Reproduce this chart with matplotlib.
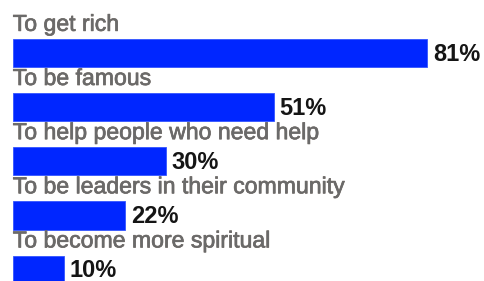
import matplotlib
matplotlib.use('Agg')
import matplotlib.pyplot as plt
import matplotlib.patheffects as pe

labels = ['To get rich', 'To be famous', 'To help people who need help',
          'To be leaders in their community', 'To become more spiritual']
values = [81, 51, 30, 22, 10]

plt.rcParams['font.family'] = ['Liberation Sans', 'DejaVu Sans']

fig = plt.figure(figsize=(4.85, 2.81), dpi=100)
ax = fig.add_axes([0, 0, 1, 1])

pos = list(range(len(values)))
ax.barh(pos, values, height=0.52, color='#0026ff', edgecolor='#3355ff', linewidth=0.6)

thick = [pe.withStroke(linewidth=0.5, foreground='#6e6660')]
for i, (lab, v) in enumerate(zip(labels, values)):
    ax.text(0.05, i - 0.41, lab, fontsize=16.6, color='#6a6a6a', va='baseline',
            ha='left', path_effects=thick)
    ax.text(v + 1.1, i + 0.02, f'{v}%', fontsize=17, fontweight='bold',
            color='#151515', va='center', ha='left')

ax.set_xlim(-2.44, 92.23)
ax.set_ylim(4.21, -0.98)
ax.axis('off')

fig.savefig('out.png', dpi=100)
